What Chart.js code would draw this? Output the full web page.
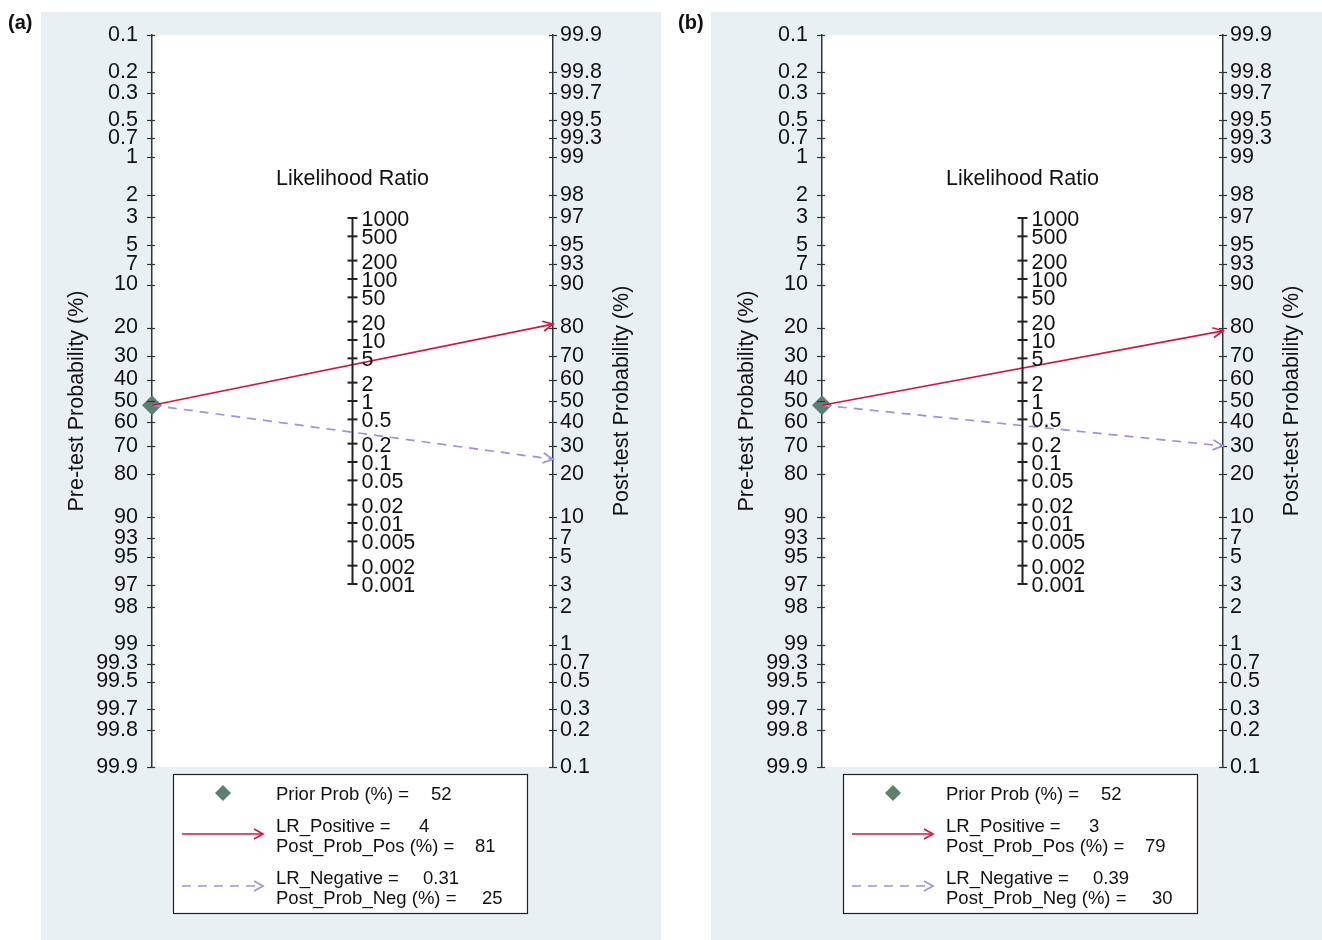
<!DOCTYPE html>
<html>
<head>
<meta charset="utf-8">
<script src="https://cdn.jsdelivr.net/npm/chart.js@4.4.1/dist/chart.umd.min.js"></script>
<style>
  html, body { margin: 0; padding: 0; background: #ffffff; }
  #wrap { position: relative; width: 1322px; height: 940px; overflow: hidden; }
  #wrap canvas { position: absolute; top: 0; }
</style>
</head>
<body>
<div id="wrap">
  <canvas id="panelA" width="670" height="940" style="left:0px"></canvas>
  <canvas id="panelB" width="670" height="940" style="left:670px"></canvas>
</div>
<script>
// Fagan nomogram inputs, one entry per panel
const panelLabels  = ['(a)', '(b)'];
const priorProb    = [52, 52];
const lrPositive   = [4, 3];
const postProbPos  = [81, 79];
const lrNegative   = [0.31, 0.39];
const postProbNeg  = [25, 30];

// Axis tick values
const preTestTicks  = [0.1, 0.2, 0.3, 0.5, 0.7, 1, 2, 3, 5, 7, 10, 20, 30, 40, 50, 60, 70, 80, 90, 93, 95, 97, 98, 99, 99.3, 99.5, 99.7, 99.8, 99.9];
const postTestTicks = [99.9, 99.8, 99.7, 99.5, 99.3, 99, 98, 97, 95, 93, 90, 80, 70, 60, 50, 40, 30, 20, 10, 7, 5, 3, 2, 1, 0.7, 0.5, 0.3, 0.2, 0.1];
const lrTicks       = [1000, 500, 200, 100, 50, 20, 10, 5, 2, 1, 0.5, 0.2, 0.1, 0.05, 0.02, 0.01, 0.005, 0.002, 0.001];

const FONT = '"Liberation Sans", Arial, sans-serif';
const TICK_SIZE = 21.5;
const RED = '#d2173f';
const LAVENDER = '#9c92e0';
const DIAMOND = '#5c8070';
const PANEL_BG = '#e9f0f3';
const INK = '#111111';

// logit of a percentage
const logit = p => Math.log(p / (100 - p));
const LIM = logit(99.9);

// Vertical coordinate: pre-test uses -logit, post-test uses logit, LR uses ln(LR)/2
const preY  = p => -logit(p);
const postY = p => logit(p);
const lrY   = lr => Math.log(lr) / 2;

function tickList(values, fn) {
  return values.map(v => ({ value: fn(v), lbl: String(v) })).sort((a, b) => a.value - b.value);
}

function chevron(ctx, x1, y1, x2, y2, color, len, half) {
  const ang = Math.atan2(y2 - y1, x2 - x1);
  ctx.save();
  ctx.strokeStyle = color;
  ctx.lineWidth = 1.7;
  ctx.setLineDash([]);
  ctx.beginPath();
  ctx.moveTo(x2 - len * Math.cos(ang) + half * Math.sin(ang), y2 - len * Math.sin(ang) - half * Math.cos(ang));
  ctx.lineTo(x2, y2);
  ctx.lineTo(x2 - len * Math.cos(ang) - half * Math.sin(ang), y2 - len * Math.sin(ang) + half * Math.cos(ang));
  ctx.stroke();
  ctx.restore();
}

function makeNomogramPlugin(k) {
  return {
    id: 'nomogram' + k,
    beforeDraw(chart) {
      const { ctx, chartArea: ca } = chart;
      ctx.save();
      ctx.fillStyle = '#ffffff';
      ctx.fillRect(0, 0, chart.width, chart.height);
      ctx.fillStyle = PANEL_BG;
      ctx.fillRect(41, 12, 620, 928);
      ctx.fillStyle = '#ffffff';
      ctx.fillRect(ca.left, ca.top, ca.right - ca.left, ca.bottom - ca.top);
      ctx.restore();
    },
    afterDraw(chart) {
      const { ctx, chartArea: ca, scales } = chart;
      const ys = scales.y, xs = scales.x;
      ctx.save();

      // tick marks crossing the outer probability axes
      ctx.strokeStyle = '#333333';
      ctx.lineWidth = 1.2;
      preTestTicks.forEach(p => {
        const y = Math.round(ys.getPixelForValue(preY(p))) + 0.5;
        ctx.beginPath(); ctx.moveTo(ca.left - 5, y); ctx.lineTo(ca.left + 3, y); ctx.stroke();
      });
      postTestTicks.forEach(p => {
        const y = Math.round(ys.getPixelForValue(postY(p))) + 0.5;
        ctx.beginPath(); ctx.moveTo(ca.right - 4, y); ctx.lineTo(ca.right + 4, y); ctx.stroke();
      });

      // likelihood ratio axis in the middle
      const xm = xs.getPixelForValue(0.5);
      ctx.strokeStyle = '#222222';
      ctx.lineWidth = 2;
      ctx.beginPath();
      ctx.moveTo(xm, ys.getPixelForValue(lrY(1000)));
      ctx.lineTo(xm, ys.getPixelForValue(lrY(0.001)));
      ctx.stroke();
      ctx.fillStyle = INK;
      ctx.font = TICK_SIZE + 'px ' + FONT;
      ctx.textAlign = 'left';
      ctx.textBaseline = 'middle';
      lrTicks.forEach(lr => {
        const y = ys.getPixelForValue(lrY(lr));
        ctx.beginPath(); ctx.moveTo(xm - 5, y); ctx.lineTo(xm + 5, y); ctx.stroke();
        ctx.fillText(String(lr), xm + 9, y + 2);
      });

      // titles
      ctx.font = '21.5px ' + FONT;
      ctx.textAlign = 'center';
      ctx.fillText('Likelihood Ratio', xm, 179);
      const yc = (ca.top + ca.bottom) / 2;
      ctx.save();
      ctx.translate(77, yc); ctx.rotate(-Math.PI / 2);
      ctx.fillText('Pre-test Probability (%)', 0, 0);
      ctx.restore();
      ctx.save();
      ctx.translate(622, yc); ctx.rotate(-Math.PI / 2);
      ctx.fillText('Post-test Probability (%)', 0, 0);
      ctx.restore();

      // panel tag
      ctx.font = 'bold 20px ' + FONT;
      ctx.textAlign = 'left';
      ctx.fillText(panelLabels[k], 8, 23);

      // arrow heads at the post-test ends
      [0, 1].forEach(di => {
        const pts = chart.getDatasetMeta(di).data;
        const color = di === 0 ? RED : LAVENDER;
        chevron(ctx, pts[0].x, pts[0].y, pts[1].x, pts[1].y, color, 10, 5);
      });

      // legend box
      ctx.fillStyle = '#ffffff';
      ctx.fillRect(173, 774, 355, 139);
      ctx.strokeStyle = '#222222';
      ctx.lineWidth = 1.2;
      ctx.strokeRect(173.5, 774.5, 354, 139);

      // legend: prior marker
      ctx.fillStyle = DIAMOND;
      ctx.beginPath();
      ctx.moveTo(223, 785); ctx.lineTo(231, 793); ctx.lineTo(223, 801); ctx.lineTo(215, 793);
      ctx.closePath(); ctx.fill();

      // legend: positive line
      ctx.strokeStyle = RED;
      ctx.lineWidth = 1.7;
      ctx.beginPath(); ctx.moveTo(182, 834); ctx.lineTo(263, 834); ctx.stroke();
      chevron(ctx, 182, 834, 263, 834, RED, 9, 5);

      // legend: negative line
      ctx.strokeStyle = LAVENDER;
      ctx.setLineDash([9, 7]);
      ctx.beginPath(); ctx.moveTo(182, 886); ctx.lineTo(263, 886); ctx.stroke();
      ctx.setLineDash([]);
      chevron(ctx, 182, 886, 263, 886, LAVENDER, 9, 5);

      ctx.fillStyle = INK;
      ctx.font = '18.5px ' + FONT;
      ctx.textAlign = 'left';
      ctx.textBaseline = 'alphabetic';
      ctx.fillText('Prior Prob (%) =', 276, 800);
      ctx.fillText(String(priorProb[k]), 431, 800);
      ctx.fillText('LR_Positive =', 276, 832);
      ctx.fillText(String(lrPositive[k]), 419, 832);
      ctx.fillText('Post_Prob_Pos (%) =', 276, 852);
      ctx.fillText(String(postProbPos[k]), 475, 852);
      ctx.fillText('LR_Negative =', 276, 884);
      ctx.fillText(String(lrNegative[k]), 423, 884);
      ctx.fillText('Post_Prob_Neg (%) =', 276, 904);
      ctx.fillText(String(postProbNeg[k]), 482, 904);

      ctx.restore();
    }
  };
}

function buildPanel(canvasId, k) {
  const start = { x: 0, y: preY(priorProb[k]) };
  return new Chart(document.getElementById(canvasId), {
    type: 'line',
    data: {
      datasets: [
        {
          label: 'LR_Positive',
          data: [start, { x: 1, y: postY(postProbPos[k]) }],
          borderColor: RED, borderWidth: 1.7, pointRadius: 0, clip: false, tension: 0
        },
        {
          label: 'LR_Negative',
          data: [start, { x: 1, y: postY(postProbNeg[k]) }],
          borderColor: LAVENDER, borderWidth: 1.7, borderDash: [9, 7], pointRadius: 0, clip: false, tension: 0
        },
        {
          label: 'Prior Prob',
          type: 'scatter',
          data: [start],
          pointStyle: 'rectRot', pointRadius: 10,
          backgroundColor: DIAMOND, borderColor: DIAMOND, borderWidth: 0, clip: false
        }
      ]
    },
    options: {
      responsive: false,
      animation: false,
      devicePixelRatio: 1,
      layout: { padding: { top: 35, bottom: 173, left: 0, right: 0 } },
      plugins: { legend: { display: false }, tooltip: { enabled: false } },
      scales: {
        x: { type: 'linear', min: 0, max: 1, display: false },
        y: {
          type: 'linear', position: 'left', min: -LIM, max: LIM,
          afterBuildTicks: s => { s.ticks = tickList(preTestTicks, preY); },
          afterFit: s => { s.width = 152; },
          grid: { display: false, drawTicks: false },
          border: { display: true, color: '#333333', width: 1.5 },
          ticks: {
            autoSkip: false, maxRotation: 0, minRotation: 0, padding: 14,
            color: INK, font: { family: FONT, size: TICK_SIZE },
            callback: (v, i, t) => t[i].lbl
          }
        },
        y2: {
          type: 'linear', position: 'right', min: -LIM, max: LIM,
          afterBuildTicks: s => { s.ticks = tickList(postTestTicks, postY); },
          afterFit: s => { s.width = 117; },
          grid: { display: false, drawTicks: false },
          border: { display: true, color: '#333333', width: 1.5 },
          ticks: {
            autoSkip: false, maxRotation: 0, minRotation: 0, padding: 7,
            color: INK, font: { family: FONT, size: TICK_SIZE },
            callback: (v, i, t) => t[i].lbl
          }
        }
      }
    },
    plugins: [makeNomogramPlugin(k)]
  });
}

buildPanel('panelA', 0);
buildPanel('panelB', 1);
</script>
</body>
</html>
